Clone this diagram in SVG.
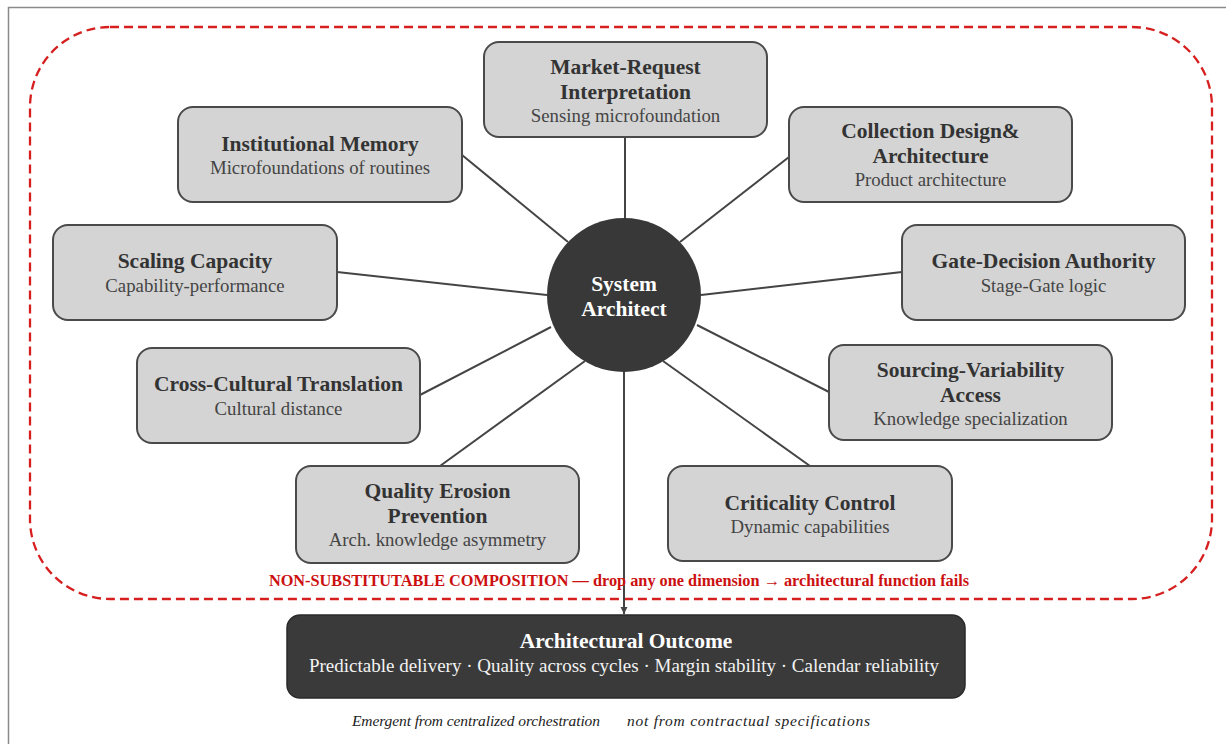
<svg xmlns="http://www.w3.org/2000/svg" width="1226" height="744" viewBox="0 0 1226 744">
  <style>
    .box { fill: #d4d4d4; stroke: #4a4a4a; stroke-width: 2; }
    .title { font-family: "Liberation Serif", "Times New Roman", serif; font-weight: bold; font-size: 21.5px; fill: #333333; text-anchor: middle; }
    .sub { font-family: "Liberation Serif", "Times New Roman", serif; font-size: 18.8px; fill: #444444; text-anchor: middle; }
    .link { stroke: #444444; stroke-width: 2; fill: none; }
    .hub-text { font-family: "Liberation Serif", "Times New Roman", serif; font-weight: bold; font-size: 21.5px; fill: #ffffff; text-anchor: middle; }
    .out-title { font-family: "Liberation Serif", "Times New Roman", serif; font-weight: bold; font-size: 21.5px; fill: #ffffff; text-anchor: middle; }
    .out-sub { font-family: "Liberation Serif", "Times New Roman", serif; font-size: 19px; fill: #f2f2f2; text-anchor: middle; }
    .warn { font-family: "Liberation Serif", "Times New Roman", serif; font-weight: bold; font-size: 16.3px; fill: #cc1010; text-anchor: middle; }
    .note { font-family: "Liberation Serif", "Times New Roman", serif; font-style: italic; font-size: 15.5px; fill: #222222; }
  </style>
  <defs>
    <marker id="arrow" viewBox="0 0 10 10" refX="10" refY="5" markerWidth="7" markerHeight="8" markerUnits="userSpaceOnUse" orient="auto">
      <path d="M0,0 L10,5 L0,10 Z" fill="#444444"/>
    </marker>
  </defs>

  <rect x="0" y="0" width="1226" height="744" fill="#ffffff"/>
  <!-- page frame -->
  <rect x="8.5" y="7.5" width="1300" height="800" fill="none" stroke="#8a8a8a" stroke-width="1.5"/>

  <!-- composition boundary -->
  <rect x="30" y="27" width="1182" height="572" rx="80" ry="80" fill="none" stroke="#d62020" stroke-width="2.3" stroke-dasharray="9 5"/>

  <!-- connectors -->
  <g id="connectors">
    <line class="link" x1="625" y1="137" x2="625" y2="220"/>
    <line class="link" x1="462" y1="155" x2="568" y2="242"/>
    <line class="link" x1="789" y1="157" x2="680" y2="242"/>
    <line class="link" x1="337" y1="272" x2="547" y2="295"/>
    <line class="link" x1="902" y1="272" x2="701" y2="295"/>
    <line class="link" x1="420" y1="395" x2="551" y2="327"/>
    <line class="link" x1="829" y1="392" x2="697" y2="325"/>
    <line class="link" x1="440" y1="466" x2="585" y2="361"/>
    <line class="link" x1="810" y1="466" x2="663" y2="361"/>
    <line class="link" x1="624" y1="370" x2="624" y2="614" marker-end="url(#arrow)"/>
  </g>

  <!-- hub -->
  <g id="system-architect">
    <circle cx="624" cy="295" r="77" fill="#383838"/>
    <text class="hub-text" x="624" y="291">System</text>
    <text class="hub-text" x="624" y="316">Architect</text>
  </g>

  <g id="market-request">
    <rect class="box" x="484" y="42" width="283" height="95" rx="15"/>
    <text class="title" x="625.5" y="74">Market-Request</text>
    <text class="title" x="625.5" y="99">Interpretation</text>
    <text class="sub" x="625.5" y="122">Sensing microfoundation</text>
  </g>

  <g id="institutional-memory">
    <rect class="box" x="178" y="107" width="284" height="95" rx="15"/>
    <text class="title" x="320" y="151">Institutional Memory</text>
    <text class="sub" x="320" y="174">Microfoundations of routines</text>
  </g>

  <g id="collection-design">
    <rect class="box" x="789" y="107" width="283" height="95" rx="15"/>
    <text class="title" x="930.5" y="138">Collection Design&amp;</text>
    <text class="title" x="930.5" y="163">Architecture</text>
    <text class="sub" x="930.5" y="186">Product architecture</text>
  </g>

  <g id="scaling-capacity">
    <rect class="box" x="53" y="225" width="284" height="95" rx="15"/>
    <text class="title" x="195" y="268">Scaling Capacity</text>
    <text class="sub" x="195" y="292">Capability-performance</text>
  </g>

  <g id="gate-decision">
    <rect class="box" x="902" y="225" width="283" height="95" rx="15"/>
    <text class="title" x="1043.5" y="268">Gate-Decision Authority</text>
    <text class="sub" x="1043.5" y="292">Stage-Gate logic</text>
  </g>

  <g id="cross-cultural">
    <rect class="box" x="137" y="348" width="283" height="95" rx="15"/>
    <text class="title" x="278.5" y="391">Cross-Cultural Translation</text>
    <text class="sub" x="278.5" y="415">Cultural distance</text>
  </g>

  <g id="sourcing-variability">
    <rect class="box" x="829" y="345" width="283" height="95" rx="15"/>
    <text class="title" x="970.5" y="377">Sourcing-Variability</text>
    <text class="title" x="970.5" y="402">Access</text>
    <text class="sub" x="970.5" y="425">Knowledge specialization</text>
  </g>

  <g id="quality-erosion">
    <rect class="box" x="296" y="466" width="283" height="97" rx="15"/>
    <text class="title" x="437.5" y="498">Quality Erosion</text>
    <text class="title" x="437.5" y="523">Prevention</text>
    <text class="sub" x="437.5" y="546">Arch. knowledge asymmetry</text>
  </g>

  <g id="criticality-control">
    <rect class="box" x="668" y="466" width="284" height="95" rx="15"/>
    <text class="title" x="810" y="510">Criticality Control</text>
    <text class="sub" x="810" y="533">Dynamic capabilities</text>
  </g>

  <text class="warn" x="619" y="586">NON-SUBSTITUTABLE COMPOSITION — drop any one dimension → architectural function fails</text>

  <g id="architectural-outcome">
    <rect x="287" y="615" width="678" height="83" rx="13" fill="#3a3a3a" stroke="#2a2a2a" stroke-width="1.5"/>
    <text class="out-title" x="626" y="648">Architectural Outcome</text>
    <text class="out-sub" x="624" y="672">Predictable delivery · Quality across cycles · Margin stability · Calendar reliability</text>
  </g>

  <text class="note" x="352" y="726" textLength="248" lengthAdjust="spacing">Emergent from centralized orchestration</text>
  <text class="note" x="627" y="726" textLength="243" lengthAdjust="spacing">not from contractual specifications</text>
</svg>
